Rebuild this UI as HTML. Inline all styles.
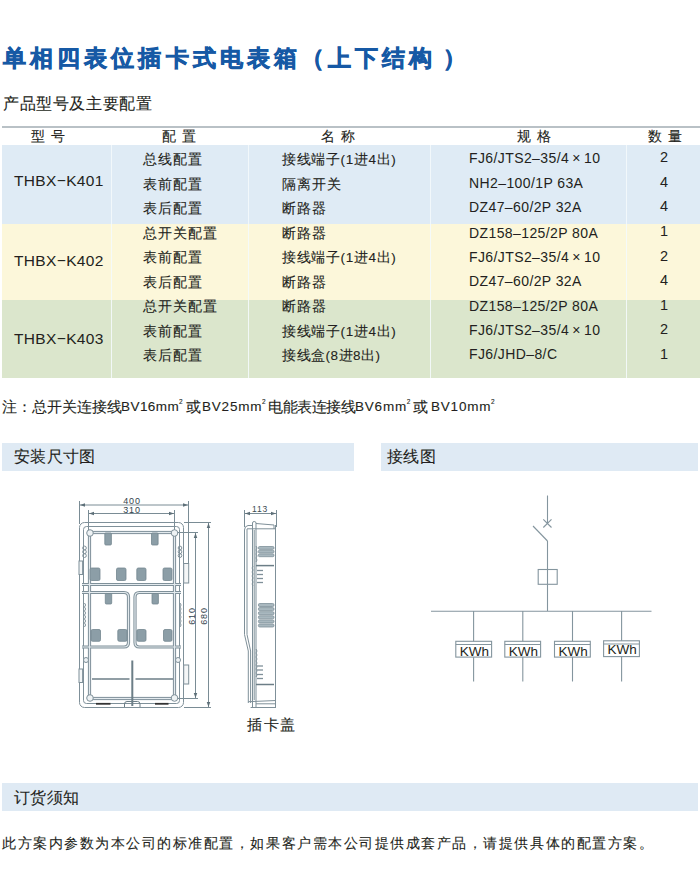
<!DOCTYPE html>
<html><head><meta charset="utf-8">
<style>
html,body{margin:0;padding:0;background:#fff;}
body{width:700px;height:884px;position:relative;overflow:hidden;font-family:"Liberation Sans",sans-serif;color:#231f20;}
.a{position:absolute;white-space:nowrap;line-height:1;-webkit-text-stroke:.1px currentColor}
.title{left:3px;top:47.5px;font-size:22.5px;font-weight:bold;color:#1659a5;letter-spacing:4.1px;-webkit-text-stroke:.7px #1659a5}
.sub{left:3px;top:96px;font-size:16px;letter-spacing:.6px}
.hline{position:absolute;left:2px;top:126px;width:698px;height:2px;background:#b9c1c6;}
.band{position:absolute;left:2px;width:698px;}
.vd{position:absolute;width:1px;background:#f4f9fc;opacity:.9;}
.th{font-size:14px;top:129px;letter-spacing:1px}
.c{font-size:13.5px;letter-spacing:1.1px}
.m{font-size:15.5px;letter-spacing:.35px;-webkit-text-stroke:0}
.s{font-size:14px;letter-spacing:.4px;-webkit-text-stroke:0}
.q{font-size:14.5px;-webkit-text-stroke:0}
.nc{top:399px;font-size:15px}
.nl{top:400px;font-size:13.5px;letter-spacing:.8px}
.nl i{font-style:normal;font-size:6.5px;position:relative;top:-1px;margin-left:-.3px;vertical-align:top}
.bar{position:absolute;height:28px;background:#dfeaf4;}
.bt{font-size:16px;letter-spacing:.3px}
</style></head><body>
<div class="a title">单相四表位插卡式电表箱（上下结构<span style="margin-left:6px">）</span></div>
<div class="a sub">产品型号及主要配置</div>
<div class="hline"></div>

<div class="band" style="top:145px;height:79px;background:#dfebf5"></div>
<div class="band" style="top:224px;height:76px;background:#fcf7da"></div>
<div class="band" style="top:300px;height:78px;background:#dbe6cc"></div>
<div class="vd" style="left:111px;top:145px;height:233px"></div>
<div class="vd" style="left:248px;top:145px;height:233px"></div>
<div class="vd" style="left:430px;top:145px;height:233px"></div>
<div class="vd" style="left:626px;top:145px;height:233px"></div>

<div class="a th" style="left:31px">型 号</div>
<div class="a th" style="left:162px">配 置</div>
<div class="a th" style="left:321px">名 称</div>
<div class="a th" style="left:517px">规 格</div>
<div class="a th" style="left:648px">数 量</div>

<div class="a m" style="left:14px;top:173px">THBX−K401</div>
<div class="a m" style="left:14px;top:253px">THBX−K402</div>
<div class="a m" style="left:14px;top:331px">THBX−K403</div>

<div class="a c" style="left:143px;top:153.2px">总线配置</div>
<div class="a c" style="left:143px;top:177.8px">表前配置</div>
<div class="a c" style="left:143px;top:202.4px">表后配置</div>
<div class="a c" style="left:143px;top:227px">总开关配置</div>
<div class="a c" style="left:143px;top:251.2px">表前配置</div>
<div class="a c" style="left:143px;top:275.8px">表后配置</div>
<div class="a c" style="left:143px;top:300.4px">总开关配置</div>
<div class="a c" style="left:143px;top:325px">表前配置</div>
<div class="a c" style="left:143px;top:349px">表后配置</div>

<div class="a c" style="left:282px;top:153.2px;letter-spacing:.65px">接线端子(1进4出)</div>
<div class="a c" style="left:282px;top:177.8px">隔离开关</div>
<div class="a c" style="left:282px;top:202.4px">断路器</div>
<div class="a c" style="left:282px;top:227px">断路器</div>
<div class="a c" style="left:282px;top:251.2px;letter-spacing:.65px">接线端子(1进4出)</div>
<div class="a c" style="left:282px;top:275.8px">断路器</div>
<div class="a c" style="left:282px;top:300.4px">断路器</div>
<div class="a c" style="left:282px;top:325px;letter-spacing:.65px">接线端子(1进4出)</div>
<div class="a c" style="left:282px;top:349px;letter-spacing:.5px">接线盒(8进8出)</div>

<div class="a s" style="left:469px;top:151px">FJ6/JTS2–35/4&#8201;×&#8201;10</div>
<div class="a s" style="left:469px;top:176px">NH2–100/1P 63A</div>
<div class="a s" style="left:469px;top:200px">DZ47–60/2P 32A</div>
<div class="a s" style="left:469px;top:226px">DZ158–125/2P 80A</div>
<div class="a s" style="left:469px;top:250px">FJ6/JTS2–35/4&#8201;×&#8201;10</div>
<div class="a s" style="left:469px;top:274px">DZ47–60/2P 32A</div>
<div class="a s" style="left:469px;top:299px">DZ158–125/2P 80A</div>
<div class="a s" style="left:469px;top:323px">FJ6/JTS2–35/4&#8201;×&#8201;10</div>
<div class="a s" style="left:469px;top:347px">FJ6/JHD–8/C</div>

<div class="a q" style="left:660px;top:150px">2</div>
<div class="a q" style="left:660px;top:175px">4</div>
<div class="a q" style="left:660px;top:199px">4</div>
<div class="a q" style="left:660px;top:224px">1</div>
<div class="a q" style="left:660px;top:249px">2</div>
<div class="a q" style="left:660px;top:273px">4</div>
<div class="a q" style="left:660px;top:298px">1</div>
<div class="a q" style="left:660px;top:322px">2</div>
<div class="a q" style="left:660px;top:347px">1</div>

<div class="a nc" style="left:2px">注：总开关连接线</div>
<div class="a nl" style="left:121px;letter-spacing:.45px">BV16mm<i>2</i></div>
<div class="a nc" style="left:185.5px">或</div>
<div class="a nl" style="left:202px">BV25mm<i>2</i></div>
<div class="a nc" style="left:268px;letter-spacing:-.5px">电能表连接线</div>
<div class="a nl" style="left:355px">BV6mm<i>2</i></div>
<div class="a nc" style="left:413px">或</div>
<div class="a nl" style="left:431px">BV10mm<i>2</i></div>

<div class="bar" style="left:2px;top:443px;width:352px"></div>
<div class="bar" style="left:381px;top:443px;width:317px"></div>
<div class="a bt" style="left:14px;top:449px">安装尺寸图</div>
<div class="a bt" style="left:387px;top:449px">接线图</div>

<!-- DRAWINGS -->
<svg class="drw" width="700" height="300" viewBox="0 480 700 300" style="position:absolute;left:0;top:480px">
<defs>
<marker id="ar" viewBox="0 0 10 10" refX="10" refY="5" markerWidth="5" markerHeight="5" orient="auto-start-reverse"><path d="M0,1.5 L10,5 L0,8.5 z" fill="#5d6f78"/></marker>
</defs>
<g fill="none" stroke="#7a8c95" stroke-width="1">
<!-- dimension lines -->
<line x1="79.5" y1="501" x2="79.5" y2="524"/>
<line x1="188.5" y1="501" x2="188.5" y2="564"/>
<line x1="80" y1="505" x2="188" y2="505" marker-start="url(#ar)" marker-end="url(#ar)"/>
<line x1="88.5" y1="510" x2="88.5" y2="531"/>
<line x1="174.5" y1="510" x2="174.5" y2="531"/>
<line x1="89" y1="513.5" x2="174" y2="513.5" marker-start="url(#ar)" marker-end="url(#ar)"/>
<line x1="184" y1="522.5" x2="211" y2="522.5"/>
<line x1="184" y1="707.5" x2="211" y2="707.5"/>
<line x1="208.5" y1="523" x2="208.5" y2="707" marker-start="url(#ar)" marker-end="url(#ar)"/>
<line x1="178" y1="532.5" x2="198" y2="532.5"/>
<line x1="178" y1="698.5" x2="198" y2="698.5"/>
<line x1="195.5" y1="533" x2="195.5" y2="698" marker-start="url(#ar)" marker-end="url(#ar)"/>
</g>
<g font-family="Liberation Sans, sans-serif" font-size="9" fill="#33434b">
<text x="132" y="504" text-anchor="middle" letter-spacing=".8">400</text>
<text x="132" y="513" text-anchor="middle" letter-spacing=".8">310</text>
<text transform="translate(194.5,616) rotate(-90)" text-anchor="middle" letter-spacing=".8">610</text>
<text transform="translate(207,616) rotate(-90)" text-anchor="middle" letter-spacing=".8">680</text>
</g>
<!-- body -->
<g fill="none" stroke="#7f9099" stroke-width="1">
<rect x="79.5" y="522.5" width="104" height="185" rx="5"/>
<rect x="83.5" y="526.5" width="96" height="177" rx="3"/>
</g>
<!-- inner frame band -->
<g fill="none" stroke="#7f9099" stroke-width="3.2">
<rect x="89.5" y="532.5" width="85" height="166"/>
<line x1="82" y1="584.5" x2="181" y2="584.5"/>
<path d="M82,592.5 H124 Q128.5,592.5 128.5,597 V642.5 Q128.5,647 124,647 H82"/>
<path d="M181,592.5 H139.5 Q135,592.5 135,597 V642.5 Q135,647 139.5,647 H181"/>
</g>
<g fill="none" stroke="#e3eaee" stroke-width="1.2">
<rect x="89.5" y="532.5" width="85" height="166"/>
<line x1="82" y1="584.5" x2="181" y2="584.5"/>
<path d="M82,592.5 H124 Q128.5,592.5 128.5,597 V642.5 Q128.5,647 124,647 H82"/>
<path d="M181,592.5 H139.5 Q135,592.5 135,597 V642.5 Q135,647 139.5,647 H181"/>
</g>
<!-- corner circles -->
<g fill="#eef2f4" stroke="#7f9099" stroke-width="1">
<circle cx="90" cy="533" r="3.3"/>
<circle cx="174.5" cy="533" r="3.3"/>
<circle cx="90" cy="698" r="3.3"/>
<circle cx="174.5" cy="698" r="3.3"/>
<circle cx="86" cy="660" r="2.5"/>
<circle cx="178" cy="660" r="2.5"/>
</g>
<!-- blocks -->
<g fill="#8c9ea7" stroke="#74868f" stroke-width=".8">
<rect x="90" y="568" width="10" height="12.5" rx="1.5"/>
<rect x="116.5" y="568" width="9.5" height="12.5" rx="1.5"/>
<rect x="136.8" y="568" width="9.2" height="12.5" rx="1.5"/>
<rect x="163" y="568" width="9" height="12.5" rx="1.5"/>
<rect x="91" y="629.5" width="9.5" height="11.8" rx="1.5"/>
<rect x="117.8" y="629.5" width="9.3" height="11.8" rx="1.5"/>
<rect x="136.8" y="629.5" width="9.2" height="11.8" rx="1.5"/>
<rect x="163.5" y="629.5" width="8.5" height="11.8" rx="1.5"/>
<rect x="104.8" y="533" width="6.6" height="12" rx="1"/>
<rect x="151.5" y="533" width="6.6" height="12" rx="1"/>
<rect x="105.3" y="593.5" width="6.4" height="10.5" rx="1"/>
<rect x="152" y="593.5" width="6.4" height="10.5" rx="1"/>
</g>
<!-- bottom parts -->
<g stroke="#6c7e87" fill="none">
<line x1="92" y1="679" x2="129.5" y2="679" stroke-width="1.4"/>
<line x1="135.5" y1="679" x2="173" y2="679" stroke-width="1.4"/>
<line x1="132.3" y1="660.5" x2="132.3" y2="706" stroke-width="2"/>
<line x1="96" y1="703.8" x2="110.5" y2="703.8" stroke-width="1.8" stroke="#333"/>
<line x1="155" y1="703.8" x2="168.5" y2="703.8" stroke-width="1.8" stroke="#333"/>
<path d="M124.5,707 V704 Q124.5,701.5 127,701.5 H137.5 Q140,701.5 140,704 V707" stroke-width="1"/>
</g>
<!-- side clips -->
<g fill="#f4f6f7" stroke="#7f9099" stroke-width="1">
<rect x="79" y="561" width="3.6" height="13.5"/>
<rect x="79" y="669" width="3.6" height="13.5"/>
<rect x="183.7" y="563.5" width="5" height="19.5"/>
<rect x="183.7" y="665" width="5" height="19"/>
</g>
<!-- bumps -->
<g fill="none" stroke="#7f9099" stroke-width="1">
<ellipse cx="84.5" cy="548" rx="1.8" ry="1.9"/><ellipse cx="84.5" cy="551.8" rx="1.8" ry="1.9"/><ellipse cx="84.5" cy="555.6" rx="1.8" ry="1.9"/>
<ellipse cx="180" cy="548" rx="1.8" ry="1.9"/><ellipse cx="180" cy="551.8" rx="1.8" ry="1.9"/><ellipse cx="180" cy="555.6" rx="1.8" ry="1.9"/>
<path d="M84.5,603 q2.2,2 0,4 q2.2,2 0,4 q2.2,2 0,4 q2.2,2 0,4 q2.2,2 0,4 q2.2,2 0,4"/>
<path d="M180,603 q2.2,2 0,4 q2.2,2 0,4 q2.2,2 0,4 q2.2,2 0,4 q2.2,2 0,4 q2.2,2 0,4"/>
</g>
</svg>
<svg class="drw" width="700" height="300" viewBox="0 480 700 300" style="position:absolute;left:0;top:480px">
<g fill="none" stroke="#7a8c95" stroke-width="1">
<line x1="244.5" y1="510" x2="244.5" y2="527"/>
<line x1="276.5" y1="510" x2="276.5" y2="527"/>
<line x1="245" y1="513.5" x2="276" y2="513.5" marker-start="url(#ar)" marker-end="url(#ar)"/>
</g>
<text x="260" y="512" text-anchor="middle" font-family="Liberation Sans, sans-serif" font-size="8.5" letter-spacing=".8" fill="#3a4a52">113</text>
<g fill="none" stroke="#7f9099" stroke-width="1">
<!-- left outer pair -->
<path d="M244.5,634.5 V530 Q244.5,526 248,525.5 H252.5"/>
<path d="M247,634.5 V529"/>
<path d="M244.5,634.5 L248.3,651 V703"/>
<path d="M247,634.5 L250.6,651 V703"/>
<!-- post -->
<path d="M252.5,707.5 V523 Q252.5,521.5 254.2,521.5 Q256,521.5 256,523 V707.5"/>
<line x1="254.2" y1="530" x2="254.2" y2="700"/>
<!-- top -->
<path d="M256,523.5 L274,525 V529"/>
<line x1="247" y1="528.8" x2="276" y2="528.8"/>
<!-- right edge -->
<line x1="275.5" y1="525" x2="275.5" y2="707.5"/>
<!-- bottom -->
<path d="M248.3,701.7 L276,700.5"/>
<line x1="250.6" y1="707.5" x2="276" y2="707.5"/>
<line x1="256" y1="703.8" x2="275.5" y2="703.8"/>
<line x1="256" y1="565.6" x2="274" y2="565.6" stroke="#6c7e87" stroke-width="1.5"/>
<line x1="256" y1="684.5" x2="274" y2="684.5" stroke="#6c7e87" stroke-width="1.5"/>
</g>
<!-- ribs -->
<g fill="#a9b8bf" stroke="#7f9099" stroke-width=".8">
<rect x="258.4" y="546.5" width="15.6" height="2.8" rx="1.2"/>
<rect x="258.4" y="550.2" width="15.6" height="2.8" rx="1.2"/>
<rect x="258.4" y="553.9" width="15.6" height="2.8" rx="1.2"/>
<rect x="258.4" y="603.5" width="15.6" height="3" rx="1.3"/>
<rect x="258.4" y="607.6" width="15.6" height="3" rx="1.3"/>
<rect x="258.4" y="611.7" width="15.6" height="3" rx="1.3"/>
<rect x="258.4" y="615.8" width="15.6" height="3" rx="1.3"/>
<rect x="258.4" y="619.9" width="15.6" height="3" rx="1.3"/>
<rect x="258.4" y="624" width="15.6" height="3" rx="1.3"/>
</g>
<g stroke="#7f9099" stroke-width="1.3">
<line x1="257" y1="570.5" x2="263" y2="570.5"/>
<line x1="257" y1="574.5" x2="263" y2="574.5"/>
<line x1="257" y1="578.5" x2="263" y2="578.5"/>
<line x1="257" y1="582.5" x2="263" y2="582.5"/>
<line x1="257" y1="666" x2="263" y2="666"/>
<line x1="257" y1="670" x2="263" y2="670"/>
<line x1="257" y1="674.5" x2="263" y2="674.5"/>
<line x1="257" y1="678.5" x2="263" y2="678.5"/>
</g>
<g fill="none" stroke="#7f9099" stroke-width="1">
<path d="M256,546 q2,2 0,4 q2,2 0,4 q2,2 0,4 q2,2 0,4"/>
<path d="M253,566 q-1.8,2 0,4 q-1.8,2 0,4 q-1.8,2 0,4 q-1.8,2 0,4 q-1.8,2 0,4"/>
<path d="M256,649 q2,2 0,4 q2,2 0,4 q2,2 0,4 q2,2 0,4 q2,2 0,4 q2,2 0,4 q2,2 0,4"/>
</g>
</svg>
<svg class="drw" width="700" height="300" viewBox="0 480 700 300" style="position:absolute;left:0;top:480px">
<g fill="none" stroke="#84959e" stroke-width="1.1">
<line x1="547.5" y1="495.5" x2="547.5" y2="523.5"/>
<line x1="543.3" y1="519.3" x2="551.5" y2="527.5"/>
<line x1="551.5" y1="519.3" x2="543.3" y2="527.5"/>
<line x1="533" y1="526" x2="547.5" y2="541"/>
<line x1="547.5" y1="541" x2="547.5" y2="611"/>
<rect x="538.2" y="569.5" width="19" height="14.8" fill="#fff"/>
<line x1="547.5" y1="569.5" x2="547.5" y2="584.3"/>
<line x1="431" y1="611.3" x2="651.5" y2="611.3"/>
<line x1="473.6" y1="611" x2="473.6" y2="681.5"/>
<line x1="522.8" y1="611" x2="522.8" y2="681.5"/>
<line x1="572.5" y1="611" x2="572.5" y2="681.5"/>
<line x1="621.6" y1="611" x2="621.6" y2="681.5"/>
</g>
<g fill="#fff" stroke="#84959e" stroke-width="1.1">
<rect x="455.8" y="641.3" width="35.8" height="15.8"/>
<rect x="504.8" y="641.3" width="35.8" height="15.8"/>
<rect x="554.5" y="641.3" width="35.8" height="15.8"/>
<rect x="603.6" y="640.8" width="35.8" height="15.8"/>
<line x1="455.8" y1="644.5" x2="491.6" y2="644.5"/>
<line x1="504.8" y1="644.5" x2="540.6" y2="644.5"/>
<line x1="554.5" y1="644.5" x2="590.3" y2="644.5"/>
<line x1="603.6" y1="644" x2="639.4" y2="644"/>
</g>
<g font-family="Liberation Sans, sans-serif" font-size="13.5" fill="#231f20">
<text x="459.8" y="655.7">KWh</text>
<text x="508.8" y="655.7">KWh</text>
<text x="558.5" y="655.7">KWh</text>
<text x="607.6" y="653.7">KWh</text>
</g>
</svg>
<div class="a" style="left:247px;top:717px;font-size:15px;letter-spacing:1.6px">插卡盖</div>


<div class="bar" style="left:2px;top:783px;width:696px"></div>
<div class="a bt" style="left:14px;top:790px">订货须知</div>
<div class="a last" style="left:2px;top:836px;font-size:14px;letter-spacing:1.53px">此方案内参数为本公司的标准配置，如果客户需本公司提供成套产品，请提供具体的配置方案。</div>
</body></html>
